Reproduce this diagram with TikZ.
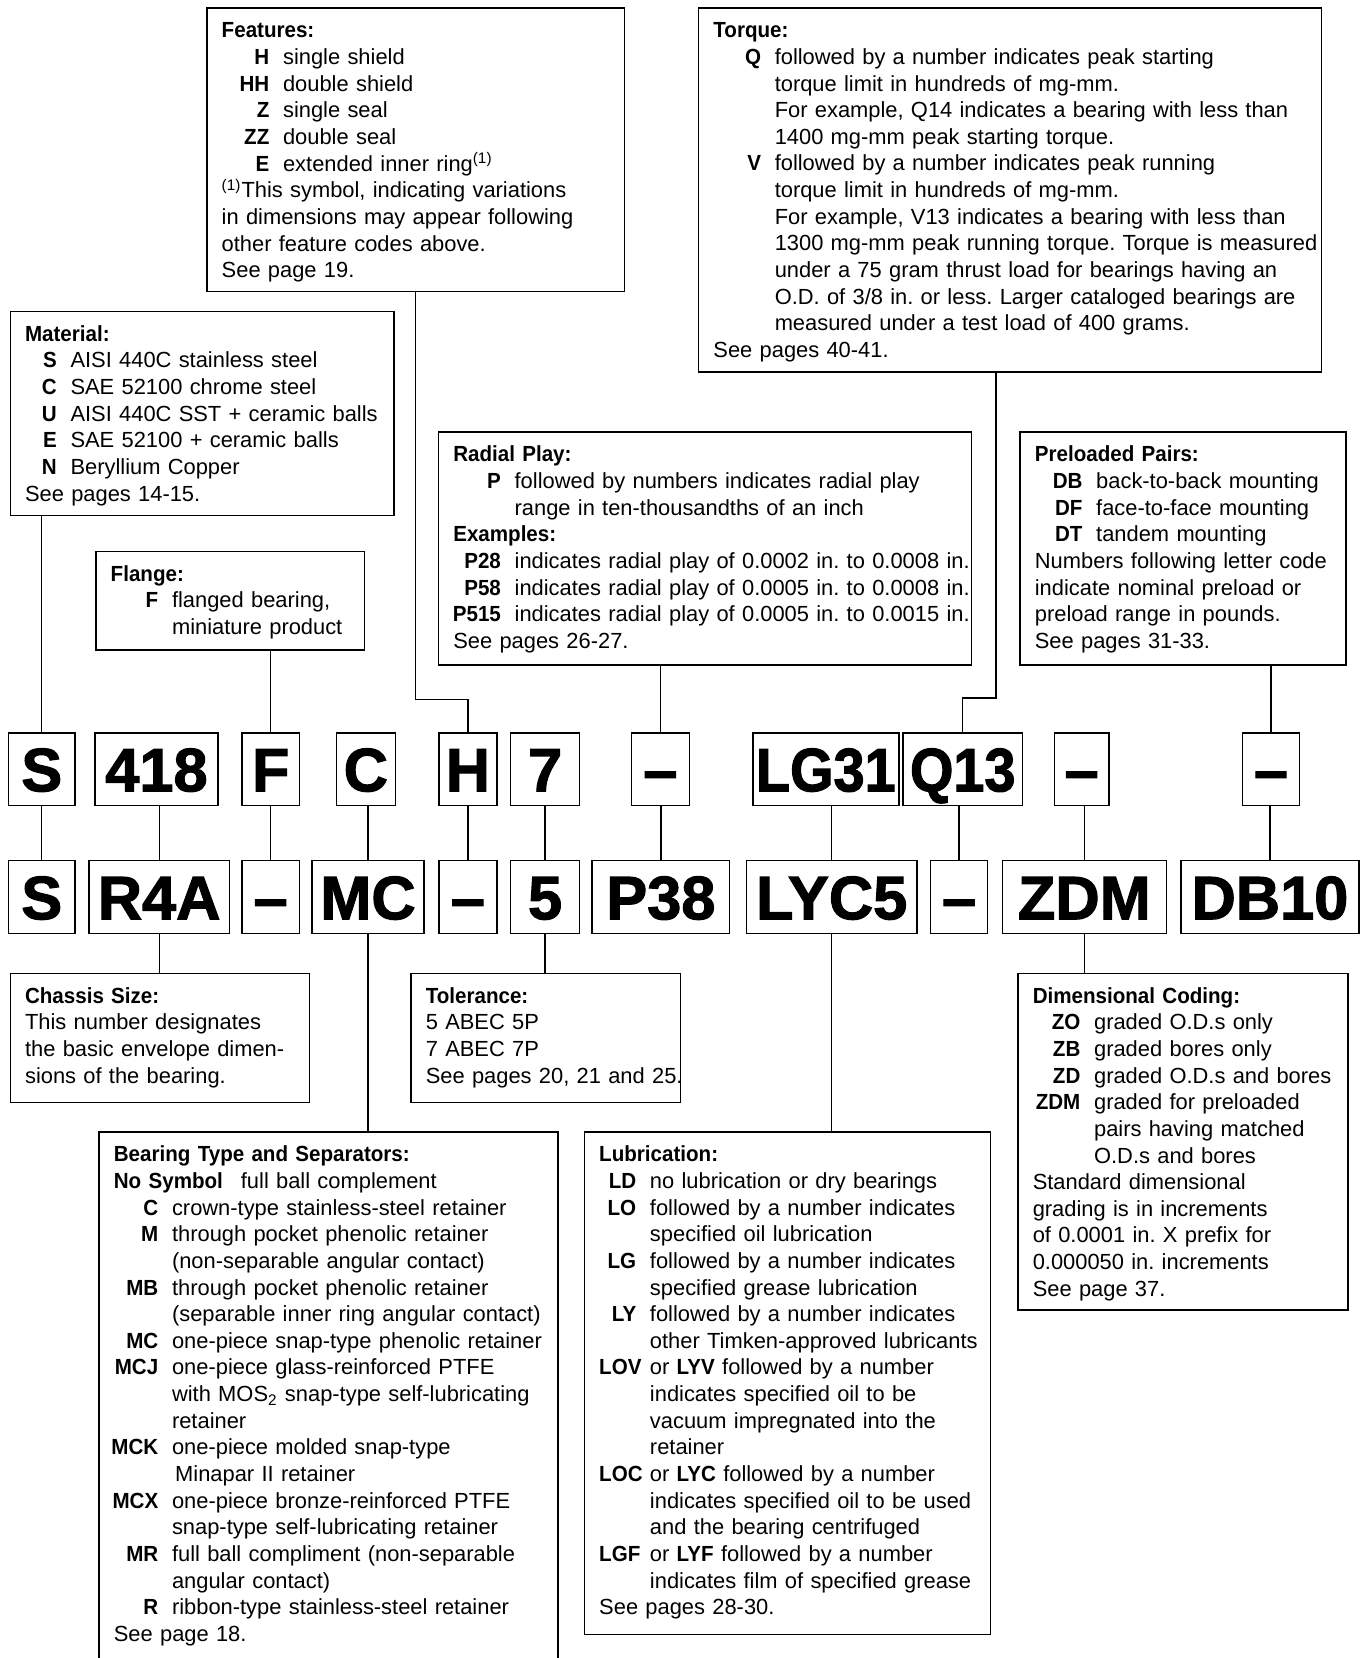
\documentclass[tikz,border=0pt]{standalone}
\usepackage{fontspec}
\setmainfont{Liberation Sans}[BoldFeatures={FakeStretch=0.94}]
\newfontfamily\codefont[FakeBold=1.8]{Liberation Sans Bold}
\newfontfamily\codefontnarrow[FakeBold=1.8,FakeStretch=0.91]{Liberation Sans Bold}
\usetikzlibrary{positioning}

% label column: bold code right aligned, description starts at #1
\newcommand{\lbl}[2][29pt]{\makebox[#1][r]{\textbf{#2}\hspace{6.5pt}}}
\newcommand{\cnt}[1][29pt]{\hspace*{#1}}

\begin{document}
\begin{tikzpicture}[x=0.5pt, y=-0.5pt]
 \tikzset{panel/.style={draw, line width=0.7pt, anchor=north west, align=left,
          inner xsep=7pt, inner ysep=3pt, text height=11pt,
          font=\fontsize{10.35}{12.6}\selectfont\frenchspacing},
          code/.style={draw, line width=0.7pt, minimum height=34.5pt, inner sep=0pt,
          text height=20.8pt, text depth=0pt, font=\codefont\fontsize{29}{29}\selectfont},
          link/.style={line width=0.6pt}}
  \useasboundingbox (0,0) rectangle (1291,1568);

  % upper panels
  \node[panel, text width=183.5pt, text depth=117pt] (features) at (195,7) {\begin{tabular}[t]{@{}l@{}}
    \textbf{Features:}\\
    \lbl{H}single shield\\
    \lbl{HH}double shield\\
    \lbl{Z}single seal\\
    \lbl{ZZ}double seal\\
    \lbl{E}extended inner ring\textsuperscript{(1)}\\
    \textsuperscript{(1)}This symbol, indicating variations\\
    in dimensions may appear following\\
    other feature codes above.\\
    See page 19.
  \end{tabular}};
  \node[panel, text width=280.5pt, text depth=155pt] (torque) at (660,7) {\begin{tabular}[t]{@{}l@{}}
    \textbf{Torque:}\\
    \lbl{Q}followed by a number indicates peak starting\\
    \cnt torque limit in hundreds of mg-mm.\\
    \cnt For example, Q14 indicates a bearing with less than\\
    \cnt 1400 mg-mm peak starting torque.\\
    \lbl{V}followed by a number indicates peak running\\
    \cnt torque limit in hundreds of mg-mm.\\
    \cnt For example, V13 indicates a bearing with less than\\
    \cnt 1300 mg-mm peak running torque. Torque is measured\\
    \cnt under a 75 gram thrust load for bearings having an\\
    \cnt O.D. of 3/8 in. or less. Larger cataloged bearings are\\
    \cnt measured under a test load of 400 grams.\\
    See pages 40-41.
  \end{tabular}};
  \node[panel, text width=167.5pt, text depth=79.5pt] (material) at (9,294) {\begin{tabular}[t]{@{}l@{}}
    \textbf{Material:}\\
    \lbl[21.5pt]{S}AISI 440C stainless steel\\
    \lbl[21.5pt]{C}SAE 52100 chrome steel\\
    \lbl[21.5pt]{U}AISI 440C SST + ceramic balls\\
    \lbl[21.5pt]{E}SAE 52100 + ceramic balls\\
    \lbl[21.5pt]{N}Beryllium Copper\\
    See pages 14-15.
  \end{tabular}};
  \node[panel, text width=113pt, text depth=29.5pt] (flange) at (90,521) {\begin{tabular}[t]{@{}l@{}}
    \textbf{Flange:}\\
    \lbl{F}flanged bearing,\\
    \cnt miniature product
  \end{tabular}};
  \node[panel, text width=238pt, text depth=93pt] (radial) at (414,408) {\begin{tabular}[t]{@{}l@{}}
    \textbf{Radial Play:}\\
    \lbl{P}followed by numbers indicates radial play\\
    \cnt range in ten-thousandths of an inch\\
    \textbf{Examples:}\\
    \lbl{P28}indicates radial play of 0.0002 in. to 0.0008 in.\\
    \lbl{P58}indicates radial play of 0.0005 in. to 0.0008 in.\\
    \lbl{P515}indicates radial play of 0.0005 in. to 0.0015 in.\\
    See pages 26-27.
  \end{tabular}};
  \node[panel, text width=140pt, text depth=93pt] (preload) at (964,408) {\begin{tabular}[t]{@{}l@{}}
    \textbf{Preloaded Pairs:}\\
    \lbl{DB}back-to-back mounting\\
    \lbl{DF}face-to-face mounting\\
    \lbl{DT}tandem mounting\\
    Numbers following letter code\\
    indicate nominal preload or\\
    preload range in pounds.\\
    See pages 31-33.
  \end{tabular}};

  % part number, upper row
  \node[code, minimum width=31.5pt] (codeS) at (39.5,727.5) {S};
  \node[code, minimum width=58pt] (code418) at (148,727.5) {418};
  \node[code, minimum width=27pt] (codeF) at (256,727.5) {F};
  \node[code, minimum width=28pt] (codeC) at (346,727.5) {C};
  \node[code, minimum width=27.5pt] (codeH) at (442.5,727.5) {H};
  \node[code, minimum width=32.5pt] (code7) at (515.5,727.5) {7};
  \node[code, minimum width=27.5pt] (codeDashP) at (624.5,727.5) {–};
  \node[code, minimum width=69pt, font=\codefontnarrow\fontsize{29}{29}\selectfont] (codeLG) at (781,727.5) {LG31};
  \node[code, minimum width=56.5pt, font=\codefontnarrow\fontsize{29}{29}\selectfont] (codeQ) at (910.5,727.5) {Q13};
  \node[code, minimum width=26pt] (codeDashZ) at (1023,727.5) {–};
  \node[code, minimum width=27pt] (codeDashD) at (1202,727.5) {–};

  % part number, lower row
  \node[code, minimum width=31.5pt] (altS) at (39.5,848.5) {S};
  \node[code, minimum width=66.5pt] (altR4A) at (150.5,848.5) {R4A};
  \node[code, minimum width=27pt] (altDashF) at (256,848.5) {–};
  \node[code, minimum width=53pt] (altMC) at (348,848.5) {MC};
  \node[code, minimum width=27.5pt] (altDashH) at (442.5,848.5) {–};
  \node[code, minimum width=32.5pt] (alt5) at (515.5,848.5) {5};
  \node[code, minimum width=65pt] (altP38) at (625,848.5) {P38};
  \node[code, minimum width=80.5pt] (altLYC5) at (786.5,848.5) {LYC5};
  \node[code, minimum width=27pt] (altDashQ) at (907,848.5) {–};
  \node[code, minimum width=77.5pt] (altZDM) at (1025.5,848.5) {ZDM};
  \node[code, minimum width=84pt] (altDB10) at (1201,848.5) {DB10};

  % lower panels
  \node[panel, text width=127.5pt, text depth=44pt] (chassis) at (9,920) {\begin{tabular}[t]{@{}l@{}}
    \textbf{Chassis Size:}\\
    This number designates\\
    the basic envelope dimen-\\
    sions of the bearing.
  \end{tabular}};
  \node[panel, text width=113.5pt, text depth=44pt] (tolerance) at (388,920) {\begin{tabular}[t]{@{}l@{}}
    \textbf{Tolerance:}\\
    5 ABEC 5P\\
    7 ABEC 7P\\
    See pages 20, 21 and 25.
  \end{tabular}};
  \node[panel, text width=203pt, text depth=248pt] (bearing) at (93,1070) {\begin{tabular}[t]{@{}l@{}}
    \textbf{Bearing Type and Separators:}\\
    \textbf{No Symbol}\hspace{8.5pt}full ball complement\\
    \lbl[27.5pt]{C}crown-type stainless-steel retainer\\
    \lbl[27.5pt]{M}through pocket phenolic retainer\\
    \cnt[27.5pt](non-separable angular contact)\\
    \lbl[27.5pt]{MB}through pocket phenolic retainer\\
    \cnt[27.5pt](separable inner ring angular contact)\\
    \lbl[27.5pt]{MC}one-piece snap-type phenolic retainer\\
    \lbl[27.5pt]{MCJ}one-piece glass-reinforced PTFE\\
    \cnt[27.5pt]with MOS\textsubscript{2} snap-type self-lubricating\\
    \cnt[27.5pt]retainer\\
    \lbl[27.5pt]{MCK}one-piece molded snap-type\\
    \cnt[29pt]Minapar II retainer\\
    \lbl[27.5pt]{MCX}one-piece bronze-reinforced PTFE\\
    \cnt[27.5pt]snap-type self-lubricating retainer\\
    \lbl[27.5pt]{MR}full ball compliment (non-separable\\
    \cnt[27.5pt]angular contact)\\
    \lbl[27.5pt]{R}ribbon-type stainless-steel retainer\\
    See page 18.
  \end{tabular}};
  \node[panel, text width=178pt, text depth=220.5pt] (lubrication) at (552,1070) {\begin{tabular}[t]{@{}l@{}}
    \textbf{Lubrication:}\\
    \lbl[24pt]{LD}no lubrication or dry bearings\\
    \lbl[24pt]{LO}followed by a number indicates\\
    \cnt[24pt]specified oil lubrication\\
    \lbl[24pt]{LG}followed by a number indicates\\
    \cnt[24pt]specified grease lubrication\\
    \lbl[24pt]{LY}followed by a number indicates\\
    \cnt[24pt]other Timken-approved lubricants\\
    \makebox[24pt][l]{\textbf{LOV}}or \textbf{LYV} followed by a number\\
    \cnt[24pt]indicates specified oil to be\\
    \cnt[24pt]vacuum impregnated into the\\
    \cnt[24pt]retainer\\
    \textbf{LOC} or \textbf{LYC} followed by a number\\
    \cnt[24pt]indicates specified oil to be used\\
    \cnt[24pt]and the bearing centrifuged\\
    \makebox[24pt][l]{\textbf{LGF}}or \textbf{LYF} followed by a number\\
    \cnt[24pt]indicates film of specified grease\\
    See pages 28-30.
  \end{tabular}};
  \node[panel, text width=142pt, text depth=142pt] (dimcoding) at (962,920) {\begin{tabular}[t]{@{}l@{}}
    \textbf{Dimensional Coding:}\\
    \lbl{ZO}graded O.D.s only\\
    \lbl{ZB}graded bores only\\
    \lbl{ZD}graded O.D.s and bores\\
    \lbl{ZDM}graded for preloaded\\
    \cnt pairs having matched\\
    \cnt O.D.s and bores\\
    Standard dimensional\\
    grading is in increments\\
    of 0.0001 in. X prefix for\\
    0.000050 in. increments\\
    See page 37.
  \end{tabular}};

  % upper panels to upper row
  \coordinate (torqueLeg) at (942,351);
  \draw[link] (codeS.north) -- (material.south -| codeS.north);
  \draw[link] (codeF.north) -- (flange.south -| codeF.north);
  \draw[link] (features.south) -- ++(0,385) -| (codeH.north);
  \draw[link] (codeDashP.north) -- (radial.south -| codeDashP.north);
  \draw[link] (torqueLeg) -- ++(0,309) -| (codeQ.north);
  \draw[link] (codeDashD.north) -- (preload.south -| codeDashD.north);

  % upper row to lower row
  \draw[link] (altS.north) -- (altS.north |- codeS.south);
  \draw[link] (altR4A.north) -- (altR4A.north |- code418.south);
  \draw[link] (altDashF.north) -- (altDashF.north |- codeF.south);
  \draw[link] (altMC.north) -- (altMC.north |- codeC.south);
  \draw[link] (altDashH.north) -- (altDashH.north |- codeH.south);
  \draw[link] (alt5.north) -- (alt5.north |- code7.south);
  \draw[link] (altP38.north) -- (altP38.north |- codeDashP.south);
  \draw[link] (altLYC5.north) -- (altLYC5.north |- codeLG.south);
  \draw[link] (altDashQ.north) -- (altDashQ.north |- codeQ.south);
  \draw[link] (altZDM.north) -- (altZDM.north |- codeDashZ.south);
  \draw[link] (altDB10.north) -- (altDB10.north |- codeDashD.south);

  % lower row to lower panels
  \draw[link] (altR4A.south) -- (altR4A.south |- chassis.north);
  \draw[link] (alt5.south) -- (alt5.south |- tolerance.north);
  \draw[link] (altMC.south) -- (altMC.south |- bearing.north);
  \draw[link] (altLYC5.south) -- (altLYC5.south |- lubrication.north);
  \draw[link] (altZDM.south) -- (altZDM.south |- dimcoding.north);
\end{tikzpicture}
\end{document}
